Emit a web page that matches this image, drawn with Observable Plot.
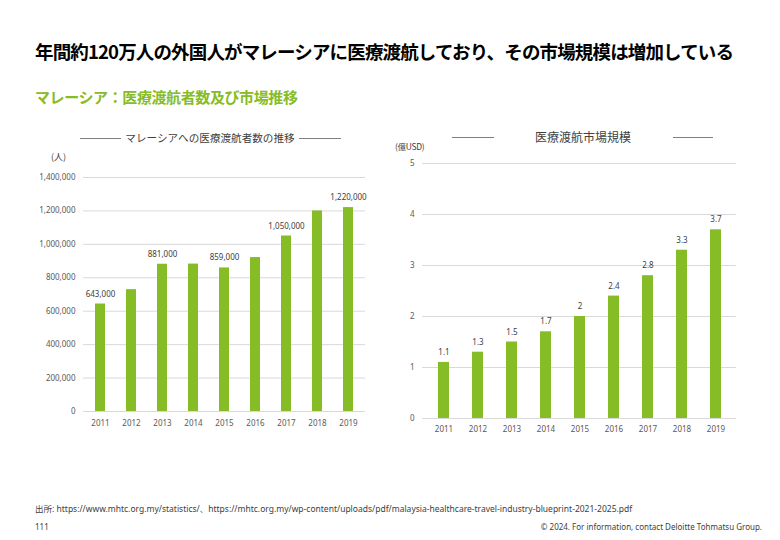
<!DOCTYPE html>
<html lang="ja">
<head>
<meta charset="utf-8">
<script src="https://cdn.jsdelivr.net/npm/d3@7"></script>
<script src="https://cdn.jsdelivr.net/npm/@observablehq/plot@0.6"></script>
<style>
  html, body { margin: 0; padding: 0; background: #fff; }
  body { width: 780px; height: 540px; position: relative; overflow: hidden;
         font-family: "Noto Sans CJK JP", "Noto Sans", sans-serif; color: #000; }
  .abs { position: absolute; white-space: nowrap; }
  #title { left: 35px; top: 40px; font-size: 18.5px; line-height: 22px; font-weight: 700; letter-spacing: -0.85px; color: #000; }
  #subtitle { left: 35px; top: 87px; font-size: 15px; line-height: 20px; font-weight: 700; letter-spacing: -0.4px; color: #86bc25; }
  .ctitle { color: #404040; text-align: center; line-height: 14px; }
  .hline { position: absolute; height: 1px; background: #7f7f7f; }
  .unit { color: #404040; line-height: 12px; }
  .foot { color: #404040; line-height: 12px; font-family: "Noto Sans", "Noto Sans CJK JP", sans-serif; }
  .chart { position: absolute; top: 140px; }
</style>
</head>
<body>
<div id="title" class="abs">年間約120万人の外国人がマレーシアに医療渡航しており、その市場規模は増加している</div>
<div id="subtitle" class="abs">マレーシア：医療渡航者数及び市場推移</div>

<div class="hline" style="left:80px; width:41px; top:138px;"></div>
<div class="abs ctitle" style="left:120px; width:180px; top:131px; font-size:10.6px;">マレーシアへの医療渡航者数の推移</div>
<div class="hline" style="left:299px; width:42px; top:138px;"></div>

<div class="hline" style="left:452px; width:42px; top:137px;"></div>
<div class="abs ctitle" style="left:528px; width:110px; top:130px; font-size:12px;">医療渡航市場規模</div>
<div class="hline" style="left:673px; width:40px; top:137px;"></div>

<div class="abs unit" style="left:51px; top:151px; font-size:9px;">(人)</div>
<div class="abs unit" style="left:395px; top:140px; font-size:8.5px; letter-spacing:-0.3px;">(億USD)</div>

<div id="left" class="chart" style="left:0px;"></div>
<div id="right" class="chart" style="left:390px;"></div>

<div class="abs foot" style="left:35px; top:503px; font-size:8.5px;">出所: https://www.mhtc.org.my/statistics/、https://mhtc.org.my/wp-content/uploads/pdf/malaysia-healthcare-travel-industry-blueprint-2021-2025.pdf</div>
<div class="abs foot" style="left:35px; top:521px; font-size:8px;">111</div>
<div class="abs foot" style="right:18px; top:521px; font-size:8px;">© 2024. For information, contact Deloitte Tohmatsu Group.</div>

<script>
// ---- data ----
const years = ["2011", "2012", "2013", "2014", "2015", "2016", "2017", "2018", "2019"];
const patients = [643000, 729000, 881000, 882000, 859000, 921000, 1050000, 1200000, 1220000];
const patientLabels = ["643,000", "", "881,000", "", "859,000", "", "1,050,000", "", "1,220,000"];
const patientTicks = [0, 200000, 400000, 600000, 800000, 1000000, 1200000, 1400000];
const market = [1.1, 1.3, 1.5, 1.7, 2, 2.4, 2.8, 3.3, 3.7];
const marketLabels = ["1.1", "1.3", "1.5", "1.7", "2", "2.4", "2.8", "3.3", "3.7"];
const marketTicks = [0, 1, 2, 3, 4, 5];

const GREEN = "#86bc25";
const GRID = "#d9d9d9";
const FONT = "'Noto Sans', 'Noto Sans CJK JP', sans-serif";

const leftData = years.map((y, i) => ({year: y, value: patients[i], label: patientLabels[i]}));
const rightData = years.map((y, i) => ({year: y, value: market[i], label: marketLabels[i]}));

const leftChart = Plot.plot({
  width: 390, height: 300,
  marginLeft: 83, marginRight: 25, marginTop: 37, marginBottom: 29,
  style: {fontFamily: FONT, fontSize: "8px", color: "#595959", background: "transparent"},
  x: {domain: years, paddingInner: 0.68, paddingOuter: 0.34, label: null},
  y: {domain: [0, 1400000], label: null},
  marks: [
    Plot.ruleY(patientTicks, {stroke: GRID, strokeWidth: 1}),
    Plot.barY(leftData, {x: "year", y: "value", fill: GREEN}),
    Plot.text(leftData.filter(d => d.label), {x: "year", y: "value", text: "label", dy: -10, fill: "#404040", fontSize: 8}),
    Plot.axisX({tickSize: 0, tickPadding: 9, label: null, fill: "#595959"}),
    Plot.axisY({ticks: patientTicks, tickFormat: d3.format(","), tickSize: 0, tickPadding: 8, label: null, fill: "#595959"})
  ]
});
document.getElementById("left").appendChild(leftChart);

const rightChart = Plot.plot({
  width: 390, height: 300,
  marginLeft: 32, marginRight: 44, marginTop: 23, marginBottom: 22,
  style: {fontFamily: FONT, fontSize: "8px", color: "#595959", background: "transparent"},
  x: {domain: years, paddingInner: 0.68, paddingOuter: 0.34, label: null},
  y: {domain: [0, 5], label: null},
  marks: [
    Plot.ruleY(marketTicks, {stroke: GRID, strokeWidth: 1}),
    Plot.barY(rightData, {x: "year", y: "value", fill: GREEN}),
    Plot.text(rightData, {x: "year", y: "value", text: "label", dy: -10, fill: "#404040", fontSize: 8}),
    Plot.axisX({tickSize: 0, tickPadding: 8, label: null, fill: "#595959"}),
    Plot.axisY({ticks: marketTicks, tickFormat: d => String(d), tickSize: 0, tickPadding: 8, label: null, fill: "#595959"})
  ]
});
document.getElementById("right").appendChild(rightChart);
</script>
</body>
</html>
